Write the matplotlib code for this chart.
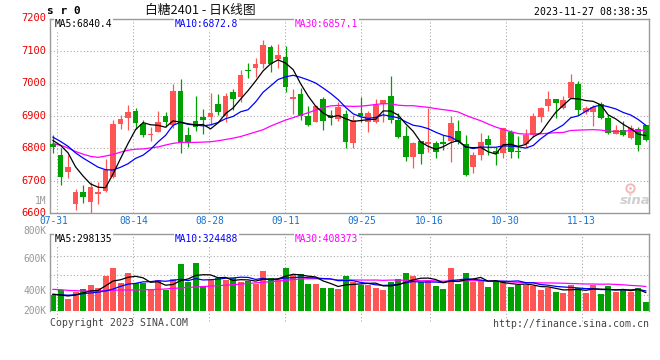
import numpy as np
import matplotlib
matplotlib.use("Agg")
import matplotlib.pyplot as plt
from matplotlib.transforms import blended_transform_factory as btf

# ---------------- data ----------------
opens = [6814, 6780, 6728, 6629, 6665, 6636, 6658, 6669, 6712, 6874,
         6894, 6916, 6875, 6840, 6850, 6899, 6871, 6975, 6840, 6885,
         6896, 6896, 6935, 6898, 6973, 6959, 7041, 7048, 7058, 7111,
         7073, 7080, 6950, 6967, 6899, 6882, 6951, 6902, 6890, 6905,
         6817, 6908, 6880, 6881, 6936, 6961, 6887, 6838, 6774, 6823,
         6813, 6817, 6820, 6823, 6853, 6813, 6741, 6780, 6829, 6792,
         6785, 6851, 6792, 6812, 6841, 6897, 6931, 6950, 6925, 6954,
         6997, 6911, 6911, 6936, 6894, 6845, 6857, 6831, 6858, 6870]
highs = [6842, 6800, 6778, 6674, 6687, 6695, 6696, 6766, 6886, 6901,
         6934, 6924, 6887, 6865, 6916, 6912, 6999, 7012, 6865, 6960,
         6920, 6969, 6968, 6971, 6982, 7041, 7061, 7078, 7133, 7117,
         7120, 7114, 6981, 6984, 6931, 6933, 6959, 6918, 6943, 6918,
         6902, 6959, 6915, 6951, 6948, 7022, 6907, 6869, 6820, 6823,
         6925, 6823, 6841, 6898, 6887, 6841, 6788, 6848, 6841, 6805,
         6861, 6856, 6838, 6858, 6907, 6928, 6977, 6950, 6961, 7027,
         7007, 6931, 6932, 6941, 6901, 6870, 6885, 6870, 6865, 6872]
lows = [6784, 6688, 6708, 6611, 6633, 6600, 6628, 6666, 6710, 6858,
        6855, 6860, 6834, 6821, 6849, 6866, 6863, 6786, 6804, 6853,
        6843, 6872, 6902, 6882, 6918, 6943, 7017, 7020, 7046, 7033,
        7046, 6972, 6905, 6886, 6868, 6880, 6856, 6870, 6884, 6802,
        6800, 6882, 6851, 6878, 6880, 6879, 6833, 6761, 6739, 6753,
        6790, 6771, 6795, 6758, 6813, 6715, 6723, 6764, 6780, 6747,
        6771, 6771, 6771, 6805, 6836, 6882, 6915, 6892, 6920, 6954,
        6902, 6906, 6867, 6890, 6845, 6843, 6837, 6829, 6791, 6822]
closes = [6804, 6713, 6741, 6665, 6651, 6681, 6664, 6732, 6876, 6889,
          6912, 6877, 6840, 6843, 6881, 6882, 6975, 6820, 6818, 6864,
          6888, 6908, 6912, 6961, 6950, 7025, 7039, 7058, 7117, 7058,
          7087, 6989, 6959, 6899, 6870, 6930, 6884, 6894, 6926, 6820,
          6888, 6898, 6908, 6932, 6948, 6886, 6836, 6774, 6817, 6783,
          6820, 6790, 6814, 6878, 6818, 6718, 6780, 6820, 6810, 6783,
          6861, 6787, 6787, 6841, 6899, 6923, 6950, 6940, 6948, 7003,
          6918, 6924, 6928, 6894, 6848, 6857, 6840, 6862, 6809, 6826]
volume_k = [259, 340, 194, 313, 356, 420, 377, 571, 701, 458,
            620, 458, 447, 340, 501, 340, 517, 760, 474, 782,
            404, 501, 528, 501, 539, 464, 485, 431, 647, 539,
            501, 701, 582, 598, 437, 437, 377, 377, 356, 566,
            474, 420, 420, 377, 340, 474, 517, 620, 566, 474,
            485, 404, 356, 701, 437, 620, 474, 485, 393, 485,
            464, 393, 420, 420, 404, 340, 367, 302, 291, 420,
            367, 291, 415, 275, 403, 313, 340, 313, 377, 151]

# moving-average values before enough history is shown
ma5_lead = [6824, 6809, 6786, 6743]
ma10_lead = [6834, 6821, 6806, 6786, 6770, 6756, 6742, 6734, 6733]
ma30_lead = [6815, 6809, 6801, 6790, 6782, 6775, 6772, 6776, 6781, 6788,
             6794, 6797, 6798, 6801, 6804, 6810, 6815, 6818, 6818, 6818,
             6819, 6820, 6823, 6827, 6831, 6836, 6843, 6850, 6857]
vma5_lead = [270, 259, 243, 259]
vma10_lead = [270, 262, 256, 262, 280, 292, 305, 325, 355]
vma30_lead = [350, 345, 334, 329, 323, 323, 329, 329, 334, 340,
              340, 340, 345, 345, 350, 356, 367, 372, 383, 388,
              396, 402, 410, 418, 426, 435, 445, 455, 465]

tick_labels = ['07-31', '08-14', '08-28', '09-11', '09-25', '10-16', '10-30', '11-13']
tick_index = [1, 11, 21, 31, 41, 50, 60, 70]
price_ticks = [6600, 6700, 6800, 6900, 7000, 7100, 7200]
vol_tick_labels = ['1M', '800K', '600K', '400K', '200K']

title_code = 's r 0'
title_text = '白糖2401 - 日K线图'
time_text = '2023-11-27 08:38:35'
ma_text = ['MA5:6840.4', 'MA10:6872.8', 'MA30:6857.1']
vma_text = ['MA5:298135', 'MA10:324488', 'MA30:408373']

# ---------------- helpers ----------------
RED = '#ff5555'
GREEN = '#00a000'
GRID = '#aaaaaa'
MONO = 'DejaVu Sans Mono'
plt.rcParams['font.family'] = ['Noto Sans CJK SC', 'DejaVu Sans']

W, H = 660, 360
def fx(px):
    return px / W
def fy(py):
    return 1 - py / H

def rolling(a, n, lead):
    a = np.asarray(a, float)
    out = np.full(len(a), np.nan)
    for i in range(n - 1, len(a)):
        out[i] = a[i - n + 1:i + 1].mean()
    out[:len(lead)] = lead
    return out

o = np.array(opens, float); h = np.array(highs, float)
l = np.array(lows, float); c = np.array(closes, float)
v = np.array(volume_k, float)
x = np.arange(len(c))
cols = np.where(c >= o, RED, GREEN)

ma5 = rolling(c, 5, ma5_lead)
ma10 = rolling(c, 10, ma10_lead)
ma30 = rolling(c, 30, ma30_lead)
vma5 = rolling(v, 5, vma5_lead)
vma10 = rolling(v, 10, vma10_lead)
vma30 = rolling(v, 30, vma30_lead)

ti = np.array(tick_index, float)
grid_x = ti - 0.43 + 0.0128 * (ti - 1)

fig = plt.figure(figsize=(6.6, 3.6), dpi=100)
fig.patch.set_facecolor('white')

XL = (-0.4, 79.47)
dot = (0, (1, 2))

# ---------------- price panel ----------------
ax = fig.add_axes([fx(50), fy(213.3), 599.3 / W, 194 / H])
ax.set_xlim(*XL)
ax.set_ylim(6600, 7196.5)
ax.set_xticks([]); ax.set_yticks([])
for s in ax.spines.values():
    s.set_color('#999999'); s.set_linewidth(1.0)

ax.hlines([6700, 6800, 6900, 7000, 7100], XL[0], XL[1], colors=GRID,
          linestyles=dot, lw=0.8, zorder=0)
ax.vlines(grid_x, 6600, 7196.5, colors=GRID, linestyles=dot, lw=0.8, zorder=0)

body_lo = np.minimum(o, c)
body_h = np.maximum(np.abs(c - o), 2.5)
ax.vlines(x, l, h, colors=cols, lw=0.9, zorder=2)
ax.bar(x, body_h, bottom=body_lo, width=0.76, color=cols, linewidth=0, zorder=3)

ax.plot(x, ma30, color='#ff00ff', lw=0.9, zorder=4)
ax.plot(x, ma10, color='#0000ff', lw=0.9, zorder=5)
ax.plot(x, ma5, color='black', lw=0.9, zorder=6)

tr_y = btf(ax.transAxes, ax.transData)
for p in price_ticks:
    ax.text(-0.006, p, str(p), transform=tr_y, ha='right', va='center',
            color='#ee0000', fontsize=7.5, family=MONO, clip_on=False)

tr_x = btf(ax.transData, ax.transAxes)
for k, (gx, lab) in enumerate(zip(grid_x, tick_labels)):
    xx = gx - 0.5 if k == 0 else gx
    ax.text(xx, -0.038, lab, transform=tr_x, ha='center', va='center',
            color='#1a73d0', fontsize=6.9, family=MONO, clip_on=False)

# sina watermark
ax.text(0.977, 0.065, 'sina', transform=ax.transAxes, ha='center', va='center',
        color='#cfcfcf', fontsize=9.5, style='italic', weight='bold', family='DejaVu Sans')
ax.plot([0.967], [0.13], 'o', transform=ax.transAxes, ms=6, mfc='none',
        mec='#f3b9b9', mew=1.4, zorder=1)
ax.plot([0.967], [0.13], 'o', transform=ax.transAxes, ms=2, mfc='#f3b9b9',
        mec='none', zorder=1)

# ---------------- volume panel ----------------
axv = fig.add_axes([fx(50), fy(311), 599.3 / W, 76.7 / H])
axv.set_xlim(*XL)
VTOP = 1241
axv.set_ylim(0, VTOP)
axv.set_xticks([]); axv.set_yticks([])
for name, s in axv.spines.items():
    s.set_color('#999999'); s.set_linewidth(1.0)
axv.spines['bottom'].set_visible(False)

axv.hlines([895, 582, 259], XL[0], XL[1], colors=GRID, linestyles=dot, lw=0.8, zorder=0)
axv.vlines(grid_x, -162, VTOP, colors=GRID, linestyles=dot, lw=0.8, zorder=0, clip_on=False)

axv.bar(x, v, width=0.8, color=cols, linewidth=0, zorder=2)
axv.plot(x, vma30, color='#ff00ff', lw=0.9, zorder=3)
axv.plot(x, vma10, color='#0000ff', lw=0.9, zorder=4)
axv.plot(x, vma5, color='black', lw=0.9, zorder=5)

# volume labels (gray)
for lab, py in zip(vol_tick_labels, [200.7, 230.7, 259, 290.7, 311]):
    fig.text(fx(46.5), fy(py), lab, ha='right', va='center', color='#999999',
             fontsize=6.9, family=MONO)

# ---------------- header / texts ----------------
fig.text(fx(47), fy(11), title_code, ha='left', va='center', fontsize=8,
         weight='bold', family=MONO, color='black')
fig.text(fx(200), fy(10.5), title_text, ha='center', va='center', fontsize=9.2,
         family=['Noto Sans CJK SC', 'DejaVu Sans'], color='#111111')
fig.text(fx(648), fy(11.7), time_text, ha='right', va='center', fontsize=7.1,
         family=MONO, color='black')

bb = dict(facecolor='white', edgecolor='none', pad=0.6)
for t, px, col in zip(ma_text, [55, 175, 295], ['black', '#0000ff', '#ff00ff']):
    fig.text(fx(px), fy(24.3), t, ha='left', va='center', fontsize=6.9,
             family=MONO, color=col, bbox=bb)
for t, px, col in zip(vma_text, [55, 175, 295], ['black', '#0000ff', '#ff00ff']):
    fig.text(fx(px), fy(238.7), t, ha='left', va='center', fontsize=6.9,
             family=MONO, color=col, bbox=bb)

fig.text(fx(50), fy(323), 'Copyright 2023 SINA.COM', ha='left', va='center',
         fontsize=7.1, family=MONO, color='#444444')
fig.text(fx(649), fy(324), 'http://finance.sina.com.cn', ha='right', va='center',
         fontsize=7.1, family=MONO, color='#444444')

fig.savefig('out.png', dpi=100, facecolor='white')
